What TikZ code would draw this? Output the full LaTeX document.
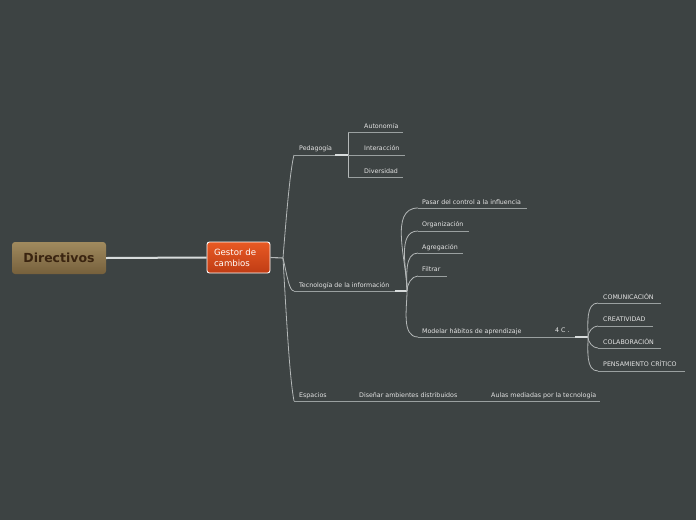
\documentclass[tikz,border=0pt]{standalone}
\usepackage{fontspec}
\setmainfont{DejaVu Sans}
\begin{document}
\begin{tikzpicture}[x=1pt,y=-1pt,
  lbl/.style={text=txtc,font=\fontsize{6.3}{7}\selectfont,inner sep=0pt,anchor=base west},
  capl/.style={text=txtc,font=\fontsize{6.3}{7}\selectfont,inner sep=0pt,anchor=base west},
  ul/.style={draw=ulc,line width=0.8pt},
  br/.style={draw=brc,line width=0.8pt},
  hiseg/.style={draw=hic,line width=1.4pt}]
\definecolor{bgc}{HTML}{3D4343}
\definecolor{txtc}{HTML}{E4E4E4}
\definecolor{ulc}{HTML}{9AA0A0}
\definecolor{brc}{HTML}{B4B8B8}
\definecolor{hic}{HTML}{D8DCDC}
\definecolor{dirtop}{HTML}{A08A5E}
\definecolor{dirbot}{HTML}{76603C}
\definecolor{dirtxt}{HTML}{3A2410}
\definecolor{gtop}{HTML}{E85A24}
\definecolor{gbot}{HTML}{C03C14}
\fill[bgc] (0,0) rectangle (696,520);
\useasboundingbox (0,0) rectangle (696,520);
% main nodes
\node[draw=none,rounded corners=3pt,top color=dirtop,bottom color=dirbot,minimum width=94pt,minimum height=32pt,inner sep=0pt,text=dirtxt,font=\fontsize{12.5}{14}\bfseries] (dir) at (59,258) {Directivos};
\node[draw=white,line width=0.9pt,rounded corners=2.5pt,top color=gtop,bottom color=gbot,minimum width=63pt,minimum height=31pt,inner sep=0pt,text=white,font=\fontsize{8.6}{11}\selectfont,align=left,text width=49pt] (ges) at (238.5,257.5) {\raisebox{-1pt}{Gestor de}\\\raisebox{-1pt}{cambios}};
\draw[draw=hic,line width=2pt] (dir.east) -- (ges.west);
\coordinate (hub) at (283,258);
\draw[br,line width=1.1pt] (ges.east) -- (hub);
% level 1 anchors
\coordinate (pedS) at (294,155); \coordinate (pedE) at (348,155);
\coordinate (tecS) at (294,291); \coordinate (tecE) at (395,291); \coordinate (tecH) at (407,291);
\coordinate (espS) at (294,401); \coordinate (espE) at (600,401);
\draw[br] (hub) .. controls (286,220) and (290,170) .. (pedS);
\draw[br] (hub) .. controls (287,275) and (289,291) .. (tecS);
\draw[br] (hub) .. controls (287,330) and (290,380) .. (espS);
\node[lbl] (ped) at (299,150.5) {Pedagogía};
\node[lbl] (tec) at (299,287) {Tecnología de la información};
\node[lbl] (esp) at (299,397) {Espacios};
\node[lbl] (dis) at (359,397) {Diseñar ambientes distribuidos};
\node[lbl] (aul) at (491,397) {Aulas mediadas por la tecnología};
\draw[ul] (pedS) -- (pedE);
\draw[hiseg] (335,155) -- (pedE);
\draw[ul] (tecS) -- (tecE);
\draw[hiseg] (tecE) -- (tecH);
\draw[ul] (espS) -- (espE);
% Pedagogia children
\coordinate (auS) at (348,132); \coordinate (auE) at (403,132);
\coordinate (inS) at (348,155); \coordinate (inE) at (405,155);
\coordinate (diS) at (348,177); \coordinate (diE) at (403,177);
\draw[br] (auS) -- (diS);
\draw[ul] (auS) -- (auE);
\draw[ul] (inS) -- (inE);
\draw[ul] (diS) -- (diE);
\node[lbl] (au) at (364,128.5) {Autonomía};
\node[lbl] (in) at (364,150.5) {Interacción};
\node[lbl] (di) at (364,173) {Diversidad};
% Tecnologia children
\coordinate (paS) at (418,208); \coordinate (paE) at (527,208);
\coordinate (orS) at (418,231); \coordinate (orE) at (469,231);
\coordinate (agS) at (418,253); \coordinate (agE) at (463,253);
\coordinate (fiS) at (418,276); \coordinate (fiE) at (447,276);
\coordinate (moS) at (418,337); \coordinate (moE) at (575,337); \coordinate (moH) at (588,337);
\foreach \c in {paS,orS,agS,fiS}{
  \draw[br] (tecH) to[out=90,in=180,looseness=0.9] (\c);
}
\draw[br] (tecH) to[out=-90,in=180,looseness=0.9] (moS);
\draw[ul] (paS) -- (paE);
\draw[ul] (orS) -- (orE);
\draw[ul] (agS) -- (agE);
\draw[ul] (fiS) -- (fiE);
\draw[ul] (moS) -- (moE);
\draw[hiseg] (moE) -- (moH);
\node[lbl] (pa) at (422,204) {Pasar del control a la influencia};
\node[lbl] (or) at (422,226.5) {Organización};
\node[lbl] (ag) at (422,249) {Agregación};
\node[lbl] (fi) at (422,271.5) {Filtrar};
\node[lbl] (mo) at (422,333) {Modelar hábitos de aprendizaje};
\node[lbl] (cc) at (555,332) {4 C .};
% 4C children
\coordinate (coS) at (598,303); \coordinate (coE) at (661,303);
\coordinate (crS) at (598,326); \coordinate (crE) at (653,326);
\coordinate (clS) at (598,348); \coordinate (clE) at (661,348);
\coordinate (peS) at (598,371); \coordinate (peE) at (685,371);
\draw[br] (moH) to[out=90,in=180,looseness=0.9] (coS);
\draw[br] (moH) to[out=90,in=180,looseness=0.9] (crS);
\draw[br] (moH) to[out=-90,in=180,looseness=0.9] (clS);
\draw[br] (moH) to[out=-90,in=180,looseness=0.9] (peS);
\draw[ul] (coS) -- (coE);
\draw[ul] (crS) -- (crE);
\draw[ul] (clS) -- (clE);
\draw[ul] (peS) -- (peE);
\node[capl] (co) at (603,299) {COMUNICACIÓN};
\node[capl] (cr) at (603,321.5) {CREATIVIDAD};
\node[capl] (cl) at (603,344) {COLABORACIÓN};
\node[capl] (pe) at (603,366.5) {PENSAMIENTO CRÍTICO};
\end{tikzpicture}
\end{document}
